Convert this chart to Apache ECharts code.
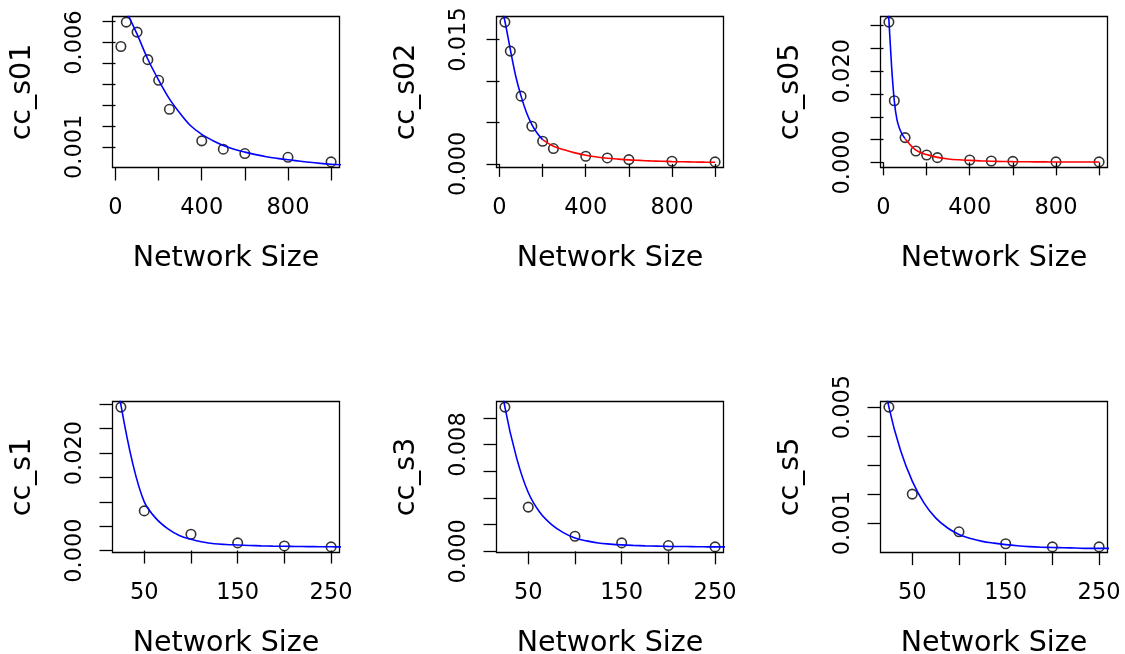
<!DOCTYPE html>
<html>
<head>
<meta charset="utf-8">
<title>cc vs Network Size</title>
<script src="https://cdn.jsdelivr.net/npm/echarts@6.0.0/dist/echarts.min.js"></script>
<style>
  html, body { margin: 0; padding: 0; background: #fff; }
  #chart { width: 1125px; height: 654px; }
</style>
</head>
<body>
<div id="chart"></div>
<script>
// network sizes on the x axis
const sizesLarge = [25, 50, 100, 150, 200, 250, 400, 500, 600, 800, 1000];
const sizesSmall = [25, 50, 100, 150, 200, 250];

// observed values (open circles)
const ccS01 = [0.00581, 0.00698, 0.00650, 0.00518, 0.00419, 0.00280, 0.00129, 0.00089, 0.00068, 0.00050, 0.00028];
const ccS02 = [0.01710, 0.01360, 0.00817, 0.00454, 0.00273, 0.00185, 0.00092, 0.00072, 0.00052, 0.00032, 0.00024];
const ccS05 = [0.03077, 0.01351, 0.00543, 0.00250, 0.00161, 0.00103, 0.00051, 0.00029, 0.00022, 0.00010, 0.00010];
const ccS1 = [0.02944, 0.00814, 0.00335, 0.00157, 0.00095, 0.00075];
const ccS3 = [0.01080, 0.00331, 0.00113, 0.00063, 0.00043, 0.00033];
const ccS5 = [0.00500, 0.00200, 0.00070, 0.00029, 0.00018, 0.00018];

// fitted curves
const fitS01x = [50, 100, 150, 200, 250, 300, 350, 400, 450, 500, 550, 600, 650, 700, 750, 800, 850, 900, 950, 1000, 1050];
const fitS01y = [0.0075, 0.0064, 0.0052, 0.0042, 0.0033, 0.0026, 0.0020, 0.0016, 0.00131, 0.00107, 0.00089, 0.00075,
  0.00063, 0.00053, 0.00045, 0.00038, 0.00032, 0.00026, 0.00021, 0.00017, 0.00014];

const fitS02BlueX = [0, 25, 50, 75, 100, 125, 150, 175, 200];
const fitS02BlueY = [0.0200, 0.0172, 0.0138, 0.0106, 0.00817, 0.0062, 0.00475, 0.0037, 0.00293];
const fitS02RedX = [200, 250, 300, 350, 400, 450, 500, 550, 600, 650, 700, 750, 800, 850, 900, 950, 1000];
const fitS02RedY = [0.00293, 0.00213, 0.0017, 0.00133, 0.00104, 0.00084, 0.00068, 0.00057, 0.00048, 0.00042, 0.00036,
  0.00032, 0.00028, 0.00025, 0.00023, 0.00021, 0.0002];

const fitS05BlueX = [12.5, 25, 37.5, 50, 62.5, 75, 87.5, 100];
const fitS05BlueY = [0.0400, 0.0312, 0.0210, 0.0135, 0.0093, 0.0073, 0.0061, 0.0052];
const fitS05RedX = [100, 150, 200, 250, 300, 350, 400, 450, 500, 550, 600, 650, 700, 750, 800, 850, 900, 950, 1000];
const fitS05RedY = [0.0052, 0.0027, 0.0017, 0.0011, 0.00075, 0.00056, 0.00044, 0.00033, 0.00025, 0.0002, 0.00016,
  0.00013, 0.00011, 0.0001, 0.00009, 0.00008, 0.00008, 0.00008, 0.00008];

const fitS1x = [12.5, 25, 37.5, 50, 62.5, 75, 87.5, 100, 112.5, 125, 137.5, 150, 162.5, 175, 187.5, 200, 212.5, 225, 237.5, 250, 262.5];
const fitS1y = [0.0450, 0.0299, 0.0180, 0.0100, 0.0066, 0.0045, 0.0031, 0.0023, 0.00175, 0.0014, 0.00125, 0.00115,
  0.00105, 0.00097, 0.00091, 0.00087, 0.00084, 0.00081, 0.00079, 0.00077, 0.00075];

const fitS3x = [12.5, 25, 37.5, 50, 62.5, 75, 87.5, 100, 112.5, 125, 137.5, 150, 162.5, 175, 187.5, 200, 212.5, 225, 237.5, 250, 262.5];
const fitS3y = [0.0165, 0.0108, 0.0070, 0.0044, 0.0029, 0.0020, 0.0014, 0.00100, 0.00078, 0.00062, 0.00054, 0.00048,
  0.00044, 0.00041, 0.00039, 0.00037, 0.00036, 0.00035, 0.00034, 0.00033, 0.00033];

const fitS5x = [12.5, 25, 37.5, 50, 62.5, 75, 87.5, 100, 112.5, 125, 137.5, 150, 162.5, 175, 187.5, 200, 212.5, 225, 237.5, 250, 262.5];
const fitS5y = [0.0072, 0.0050, 0.0035, 0.00245, 0.0017, 0.00118, 0.00084, 0.00061, 0.00047, 0.00037, 0.00031, 0.00026,
  0.00022, 0.00019, 0.00017, 0.00016, 0.00015, 0.00014, 0.00013, 0.00013, 0.00013];

// ticks and the labels R actually printed
const xTicksLarge = [0, 200, 400, 600, 800, 1000];
const xLabelsLarge = [0, 400, 800];
const xTicksSmall = [50, 100, 150, 200, 250];
const xLabelsSmall = [50, 150, 250];

const yTicksS01 = [0.001, 0.002, 0.003, 0.004, 0.005, 0.006, 0.007];
const yLabelsS01 = [0.001, 0.006];
const yTicksS02 = [0, 0.005, 0.010, 0.015];
const yLabelsS02 = [0, 0.015];
const yTicksS05 = [0, 0.005, 0.010, 0.015, 0.020, 0.025, 0.030];
const yLabelsS05 = [0, 0.020];
const yTicksS1 = [0, 0.005, 0.010, 0.015, 0.020, 0.025, 0.030];
const yLabelsS1 = [0, 0.020];
const yTicksS3 = [0, 0.002, 0.004, 0.006, 0.008, 0.010];
const yLabelsS3 = [0, 0.008];
const yTicksS5 = [0.001, 0.002, 0.003, 0.004, 0.005];
const yLabelsS5 = [0.001, 0.005];

const panels = [
  { title: 'cc_s01', x: sizesLarge, y: ccS01, xt: xTicksLarge, xl: xLabelsLarge, yt: yTicksS01, yl: yLabelsS01,
    fits: [[fitS01x, fitS01y, '#0000ff']] },
  { title: 'cc_s02', x: sizesLarge, y: ccS02, xt: xTicksLarge, xl: xLabelsLarge, yt: yTicksS02, yl: yLabelsS02,
    fits: [[fitS02BlueX, fitS02BlueY, '#0000ff'], [fitS02RedX, fitS02RedY, '#ff0000']] },
  { title: 'cc_s05', x: sizesLarge, y: ccS05, xt: xTicksLarge, xl: xLabelsLarge, yt: yTicksS05, yl: yLabelsS05,
    fits: [[fitS05BlueX, fitS05BlueY, '#0000ff'], [fitS05RedX, fitS05RedY, '#ff0000']] },
  { title: 'cc_s1', x: sizesSmall, y: ccS1, xt: xTicksSmall, xl: xLabelsSmall, yt: yTicksS1, yl: yLabelsS1,
    fits: [[fitS1x, fitS1y, '#0000ff']] },
  { title: 'cc_s3', x: sizesSmall, y: ccS3, xt: xTicksSmall, xl: xLabelsSmall, yt: yTicksS3, yl: yLabelsS3,
    fits: [[fitS3x, fitS3y, '#0000ff']] },
  { title: 'cc_s5', x: sizesSmall, y: ccS5, xt: xTicksSmall, xl: xLabelsSmall, yt: yTicksS5, yl: yLabelsS5,
    fits: [[fitS5x, fitS5y, '#0000ff']] }
];

// plot boxes (2 x 3 like par(mfrow=c(2,3)))
const boxLeft = [112.5, 496.5, 880.5];
const boxTop = [16.5, 401.5];
const boxW = 227, boxH = 151;

const font = "'DejaVu Sans', 'Liberation Sans', sans-serif";

// R style range: data range stretched by 4% on each side
function rRange(vals) {
  const lo = Math.min(...vals), hi = Math.max(...vals);
  const d = (hi - lo) * 0.04;
  return [lo - d, hi + d];
}

const zip = (a, b) => a.map((v, i) => [v, b[i]]);

const grid = [], xAxis = [], yAxis = [], series = [];
panels.forEach((p, i) => {
  const col = i % 3, row = Math.floor(i / 3);
  grid.push({
    left: boxLeft[col], top: boxTop[row], width: boxW, height: boxH,
    show: true, borderColor: '#000', borderWidth: 1.3, backgroundColor: 'transparent',
    outerBoundsMode: 'none'
  });
  const xr = rRange(p.x), yr = rRange(p.y);
  xAxis.push({
    type: 'value', gridIndex: i, min: xr[0], max: xr[1],
    name: 'Network Size', nameLocation: 'middle', nameGap: 77,
    nameTextStyle: { fontFamily: font, fontSize: 28.5, color: '#000' },
    axisLine: { show: false }, splitLine: { show: false },
    axisTick: { show: true, inside: false, length: 13, customValues: p.xt, lineStyle: { color: '#000', width: 1.3 } },
    axisLabel: { show: true, customValues: p.xl, margin: 29.5, fontFamily: font, fontSize: 22.5, color: '#000',
      formatter: v => String(v) }
  });
  yAxis.push({
    type: 'value', gridIndex: i, min: yr[0], max: yr[1],
    name: p.title, nameLocation: 'middle', nameGap: 75, nameRotate: 90,
    nameTextStyle: { fontFamily: font, fontSize: 28.5, color: '#000' },
    axisLine: { show: false }, splitLine: { show: false },
    axisTick: { show: true, inside: false, length: 13, customValues: p.yt, lineStyle: { color: '#000', width: 1.3 } },
    axisLabel: { show: true, customValues: p.yl, rotate: 90, margin: 26, fontFamily: font, fontSize: 22.5, color: '#000',
      formatter: v => v.toFixed(3) }
  });
  series.push({
    type: 'scatter', xAxisIndex: i, yAxisIndex: i, z: 2,
    data: zip(p.x, p.y), symbol: 'circle', symbolSize: 9.5,
    itemStyle: { color: 'rgba(0,0,0,0)', borderColor: '#000', borderWidth: 1.6 },
    emphasis: { disabled: true }
  });
  p.fits.forEach(f => {
    series.push({
      type: 'line', xAxisIndex: i, yAxisIndex: i, z: 3,
      data: zip(f[0], f[1]), showSymbol: false, smooth: 0.35, clip: true,
      lineStyle: { color: f[2], width: 1.6 }, emphasis: { disabled: true }
    });
  });
});

const chart = echarts.init(document.getElementById('chart'), null, { renderer: 'canvas' });
chart.setOption({
  backgroundColor: '#fff',
  animation: false,
  grid, xAxis, yAxis, series
});
</script>
</body>
</html>
